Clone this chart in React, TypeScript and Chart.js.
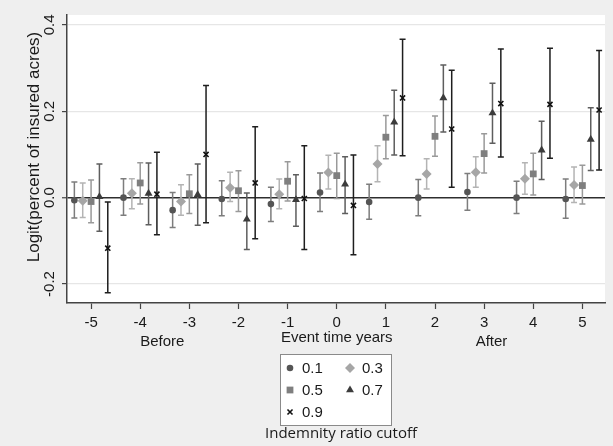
import React, { useEffect, useRef } from "react";
import { Chart, registerables } from "chart.js";
import { drawPoint } from "chart.js/helpers";

Chart.register(...registerables);

// ---------- data ----------
const years = [-5, -4, -3, -2, -1, 0, 1, 2, 3, 4, 5];
const seriesLabels = ["0.1", "0.3", "0.5", "0.7", "0.9"];
const yTicks = [-0.2, 0, 0.2, 0.4];
const yTickLabels = ["-0.2", "0.0", "0.2", "0.4"];
const beforeLabel = "Before";
const afterLabel = "After";
const xTitle = "Event time years";
const yTitle = "Logit(percent of insured acres)";
const legendTitle = "Indemnity ratio cutoff";

const est01 = [-0.006, 0.0, -0.029, -0.003, -0.015, 0.012, -0.01, 0.0, 0.013, 0.0, -0.003];
const lo01 = [-0.047, -0.041, -0.069, -0.042, -0.055, -0.032, -0.05, -0.042, -0.029, -0.037, -0.048];
const hi01 = [0.036, 0.044, 0.012, 0.039, 0.024, 0.057, 0.031, 0.042, 0.056, 0.038, 0.043];

const est03 = [-0.007, 0.01, -0.009, 0.023, 0.008, 0.058, 0.078, 0.055, 0.059, 0.044, 0.029];
const lo03 = [-0.046, -0.026, -0.041, -0.009, -0.026, 0.02, 0.037, 0.02, 0.024, 0.008, -0.011];
const hi03 = [0.034, 0.044, 0.03, 0.059, 0.043, 0.098, 0.12, 0.09, 0.095, 0.081, 0.071];

const est05 = [-0.009, 0.034, 0.009, 0.016, 0.038, 0.051, 0.14, 0.142, 0.102, 0.055, 0.028];
const lo05 = [-0.058, -0.015, -0.037, -0.032, -0.008, -0.002, 0.09, 0.096, 0.057, 0.006, -0.015];
const hi05 = [0.041, 0.081, 0.053, 0.062, 0.083, 0.103, 0.19, 0.189, 0.148, 0.103, 0.075];

const est07 = [0.002, 0.01, 0.007, -0.05, -0.005, 0.031, 0.175, 0.231, 0.196, 0.11, 0.135];
const lo07 = [-0.078, -0.063, -0.064, -0.12, -0.066, -0.037, 0.099, 0.152, 0.126, 0.042, 0.063];
const hi07 = [0.078, 0.08, 0.078, 0.011, 0.053, 0.095, 0.249, 0.307, 0.265, 0.177, 0.208];

const est09 = [-0.117, 0.008, 0.1, 0.034, -0.002, -0.018, 0.231, 0.159, 0.218, 0.216, 0.203];
const lo09 = [-0.22, -0.086, -0.058, -0.095, -0.12, -0.132, 0.097, 0.024, 0.094, 0.091, 0.064];
const hi09 = [-0.01, 0.105, 0.26, 0.164, 0.12, 0.099, 0.367, 0.295, 0.344, 0.346, 0.341];

const estimates = [est01, est03, est05, est07, est09];
const lows = [lo01, lo03, lo05, lo07, lo09];
const highs = [hi01, hi03, hi05, hi07, hi09];

// ---------- styles ----------
const FONT = '"Liberation Sans", Arial, sans-serif';
const seriesStyles = [
  { offset: -0.34, pointStyle: "circle", radius: 3.3, fill: "#555555", border: "#555555", borderWidth: 0, bar: "#7d7d7d" },
  { offset: -0.17, pointStyle: "rectRot", radius: 5, fill: "#a6a6a6", border: "#a6a6a6", borderWidth: 0, bar: "#b4b4b4" },
  { offset: 0, pointStyle: "rect", radius: 4.8, fill: "#7f7f7f", border: "#7f7f7f", borderWidth: 0, bar: "#9a9a9a" },
  { offset: 0.17, pointStyle: "triangle", radius: 4.6, fill: "#3c3c3c", border: "#3c3c3c", borderWidth: 0, bar: "#5e5e5e" },
  { offset: 0.34, pointStyle: "crossRot", radius: 3.6, fill: "#111111", border: "#111111", borderWidth: 1.6, bar: "#1e1e1e" },
];

const decorPlugin = {
  id: "decor",
  beforeDraw(chart: any) {
    const { ctx, chartArea: a, width, height } = chart;
    ctx.save();
    ctx.fillStyle = "#efefef";
    ctx.fillRect(0, 0, width, height);
    ctx.fillStyle = "#ffffff";
    ctx.fillRect(a.left, a.top, a.right - a.left, a.bottom - a.top);
    ctx.restore();
  },
  beforeDatasetsDraw(chart: any) {
    const { ctx } = chart;
    const ys = chart.scales.y;
    ctx.save();
    ctx.lineWidth = 1.5;
    seriesStyles.forEach((st, i) => {
      const meta = chart.getDatasetMeta(i);
      ctx.strokeStyle = st.bar;
      meta.data.forEach((pt: any, j: number) => {
        const x = pt.x;
        const yl = ys.getPixelForValue(lows[i][j]);
        const yh = ys.getPixelForValue(highs[i][j]);
        ctx.beginPath();
        ctx.moveTo(x, yl);
        ctx.lineTo(x, yh);
        ctx.moveTo(x - 3, yl);
        ctx.lineTo(x + 3, yl);
        ctx.moveTo(x - 3, yh);
        ctx.lineTo(x + 3, yh);
        ctx.stroke();
      });
    });
    ctx.restore();
  },
  afterDraw(chart: any) {
    const { ctx } = chart;
    const ys = chart.scales.y;
    const xs = chart.scales.x;
    ctx.save();
    ctx.fillStyle = "#1a1a1a";
    // y tick labels (rotated)
    ctx.font = `15px ${FONT}`;
    ctx.textAlign = "center";
    ctx.textBaseline = "middle";
    yTicks.forEach((v, i) => {
      ctx.save();
      ctx.translate(50, ys.getPixelForValue(v));
      ctx.rotate(-Math.PI / 2);
      ctx.fillText(yTickLabels[i], 0, 0);
      ctx.restore();
    });
    // y title
    ctx.save();
    ctx.translate(34, 147);
    ctx.rotate(-Math.PI / 2);
    ctx.font = `17px ${FONT}`;
    ctx.fillText(yTitle, 0, 0);
    ctx.restore();
    // x texts
    ctx.font = `15px ${FONT}`;
    ctx.fillText(xTitle, xs.getPixelForValue(0), 338);
    ctx.fillText(beforeLabel, xs.getPixelForValue(-3.55), 342);
    ctx.fillText(afterLabel, xs.getPixelForValue(3.15), 342);

    // legend
    const bx = 280.5, by = 354.5, bw = 111, bh = 71;
    ctx.fillStyle = "#ffffff";
    ctx.fillRect(bx, by, bw, bh);
    ctx.strokeStyle = "#8a8a8a";
    ctx.lineWidth = 1;
    ctx.strokeRect(bx, by, bw, bh);
    const colX = [290, 350];
    const rowY = [368, 390, 412];
    seriesStyles.forEach((st, i) => {
      const cx = colX[i % 2];
      const cy = rowY[Math.floor(i / 2)];
      ctx.fillStyle = st.fill;
      ctx.strokeStyle = st.border;
      ctx.lineWidth = st.borderWidth || 1;
      drawPoint(ctx, { pointStyle: st.pointStyle, radius: st.radius, borderWidth: st.borderWidth, rotation: 0 }, cx, cy);
      ctx.fillStyle = "#1a1a1a";
      ctx.font = `15px ${FONT}`;
      ctx.textAlign = "left";
      ctx.textBaseline = "middle";
      ctx.fillText(seriesLabels[i], cx + 12, cy + 1);
    });
    ctx.textAlign = "center";
    ctx.font = `15px "Open Sans", ${FONT}`;
    ctx.fillStyle = "#1a1a1a";
    ctx.fillText(legendTitle, 341, 434);
    ctx.restore();
  },
};

export default function App() {
  const ref = useRef<HTMLCanvasElement | null>(null);
  useEffect(() => {
    if (!ref.current) return;
    const datasets = seriesStyles.map((st, i) => ({
      label: seriesLabels[i],
      data: years.map((yr, j) => ({ x: yr + st.offset, y: estimates[i][j] })),
      pointStyle: st.pointStyle,
      pointRadius: st.radius,
      pointHoverRadius: st.radius,
      backgroundColor: st.fill,
      borderColor: st.border,
      borderWidth: st.borderWidth,
      pointBorderWidth: st.borderWidth,
      showLine: false,
    }));
    const chart = new Chart(ref.current, {
      type: "scatter",
      data: { datasets } as any,
      options: {
        animation: false,
        responsive: true,
        maintainAspectRatio: false,
        layout: { padding: { top: 15, right: 8, left: 0, bottom: 0 } },
        plugins: { legend: { display: false }, tooltip: { enabled: false } },
        scales: {
          x: {
            type: "linear",
            min: -5.49,
            max: 5.46,
            afterBuildTicks: (s: any) => {
              s.ticks = years.map((v) => ({ value: v }));
            },
            afterFit: (s: any) => {
              s.height = 143;
            },
            grid: { display: true, drawOnChartArea: false, drawTicks: true, tickLength: 6, tickColor: "#444", tickWidth: 1.2 },
            border: { display: true, color: "#444", width: 1.5 },
            ticks: {
              autoSkip: false,
              maxRotation: 0,
              padding: 5,
              color: "#1a1a1a",
              font: { family: FONT, size: 15 },
              callback: (v: any) => String(v),
            },
          },
          y: {
            type: "linear",
            min: -0.244,
            max: 0.423,
            afterBuildTicks: (s: any) => {
              s.ticks = yTicks.map((v) => ({ value: v }));
            },
            afterFit: (s: any) => {
              s.width = 67;
            },
            grid: {
              color: (c: any) => (c.tick && Math.abs(c.tick.value) < 1e-9 ? "#2e2e2e" : "#e6e6e6"),
              lineWidth: (c: any) => (c.tick && Math.abs(c.tick.value) < 1e-9 ? 1.5 : 1.2),
              drawTicks: true,
              tickLength: 5,
              tickColor: "#444",
              tickWidth: 1.2,
            },
            border: { display: true, color: "#444", width: 1.5 },
            ticks: { display: false },
          },
        },
      } as any,
      plugins: [decorPlugin],
    });
    return () => chart.destroy();
  }, []);
  return (
    <div style={{ position: "fixed", left: 0, top: 0, width: 613, height: 446 }}>
      <canvas ref={ref} />
    </div>
  );
}
